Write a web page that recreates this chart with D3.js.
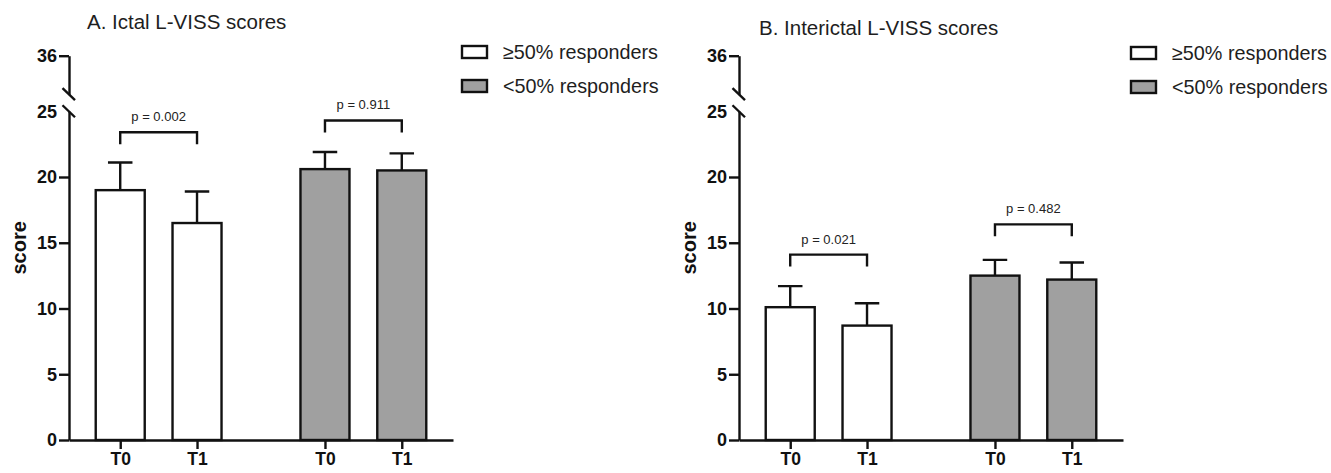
<!DOCTYPE html>
<html>
<head>
<meta charset="utf-8">
<script src="https://cdn.jsdelivr.net/npm/d3@7"></script>
<style>
  html, body { margin: 0; padding: 0; background: #fff; }
  svg { display: block; font-family: "Liberation Sans", Arial, Helvetica, sans-serif; }
</style>
</head>
<body>
<svg id="chart" width="1331" height="473"></svg>
<script>
// ---------- data ----------
const categories = ["T0", "T1", "T0", "T1"];
const groupOfBar = [0, 0, 1, 1];
const legendLabels = ["\u226550% responders", "<50% responders"];
const groupFills = ["#ffffff", "#a0a0a0"];

const ictalTitle = "A. Ictal L-VISS scores";
const ictalMeans = [19.0, 16.5, 20.6, 20.5];
const ictalErr = [2.1, 2.4, 1.3, 1.3];
const ictalP = ["p = 0.002", "p = 0.911"];
const ictalBracket = [23.4, 24.3];

const interTitle = "B. Interictal L-VISS scores";
const interMeans = [10.1, 8.7, 12.5, 12.2];
const interErr = [1.6, 1.7, 1.2, 1.3];
const interP = ["p = 0.021", "p = 0.482"];
const interBracket = [14.1, 16.4];

const yTicksLow = [0, 5, 10, 15, 20, 25];
const yTicksHigh = [36];
const yLabel = "score";

// ---------- layout ----------
const svg = d3.select("#chart");
const barSlots = [0.667, 1.667, 3.333, 4.333];

function panel(opts) {
  const g = svg.append("g").attr("transform", `translate(${opts.x0},0)`);
  const axisW = 384;
  const x = d3.scaleLinear().domain([0, 5]).range([0, axisW]);
  const y = d3.scaleLinear().domain([0, 25]).range([440, 111.25]);
  const yTop = d3.scaleLinear().domain([33.07, 36]).range([94.2, 55.7]);
  const barW = 49;
  const sw = 2.4;

  // title
  g.append("text").attr("x", opts.titleX).attr("y", opts.titleY)
    .attr("font-size", 20.5).attr("fill", "#1e1e1e").text(opts.title);

  // bars
  const data = opts.means.map((m, i) => ({ m, e: opts.err[i], g: groupOfBar[i], slot: barSlots[i], cat: categories[i] }));
  g.selectAll("rect.bar").data(data).join("rect")
    .attr("class", "bar")
    .attr("x", d => x(d.slot) - barW / 2)
    .attr("y", d => y(d.m))
    .attr("width", barW)
    .attr("height", d => y(0) - y(d.m))
    .attr("fill", d => groupFills[d.g])
    .attr("stroke", "#111").attr("stroke-width", sw);

  // error bars (upper only)
  g.selectAll("path.err").data(data).join("path")
    .attr("class", "err")
    .attr("d", d => {
      const cx = x(d.slot), top = y(d.m + d.e);
      return `M${cx},${y(d.m)}V${top}M${cx - barW / 4},${top}H${cx + barW / 4}`;
    })
    .attr("fill", "none").attr("stroke", "#111").attr("stroke-width", sw);

  // significance brackets
  [0, 1].forEach(k => {
    const xa = x(barSlots[2 * k]), xb = x(barSlots[2 * k + 1]);
    const yt = y(opts.bracket[k]);
    g.append("path")
      .attr("d", `M${xa},${yt + 12}V${yt}H${xb}V${yt + 12}`)
      .attr("fill", "none").attr("stroke", "#111").attr("stroke-width", sw);
    g.append("text").attr("x", (xa + xb) / 2).attr("y", yt - 11)
      .attr("text-anchor", "middle").attr("font-size", 13).attr("fill", "#222")
      .text(opts.p[k]);
  });

  // y axis lower segment
  const yAxisLow = g.append("g").call(
    d3.axisLeft(y).tickValues(yTicksLow).tickSize(10).tickSizeOuter(0).tickPadding(2).tickFormat(d3.format("d")));
  // y axis upper segment
  const yAxisHigh = g.append("g").call(
    d3.axisLeft(yTop).tickValues(yTicksHigh).tickSize(10).tickSizeOuter(0).tickPadding(2).tickFormat(d3.format("d")));
  [yAxisLow, yAxisHigh].forEach(a => {
    a.select(".domain").attr("stroke", "#111").attr("stroke-width", sw);
    a.selectAll(".tick line").attr("stroke", "#111").attr("stroke-width", sw);
    a.selectAll(".tick text").attr("font-size", 18).attr("font-weight", "bold")
      .attr("fill", "#111").attr("font-family", "'Liberation Sans', Arial, sans-serif");
  });
  yAxisLow.selectAll(".tick").filter(d => d === 25).select("line").remove();

  // break slashes
  [yTop(33.07), y(25)].forEach(cy => {
    g.append("line").attr("x1", -6.5).attr("y1", cy - 6).attr("x2", 6).attr("y2", cy + 6)
      .attr("stroke", "#111").attr("stroke-width", sw);
  });

  // x axis
  const xAxis = g.append("g").attr("transform", `translate(0,${y(0)})`).call(
    d3.axisBottom(x).tickValues(barSlots).tickSize(9).tickSizeOuter(0).tickPadding(4)
      .tickFormat((d, i) => categories[i]));
  xAxis.select(".domain").attr("stroke", "#111").attr("stroke-width", sw);
  xAxis.selectAll(".tick line").attr("stroke", "#111").attr("stroke-width", sw);
  xAxis.selectAll(".tick text").attr("font-size", 17.5).attr("font-weight", "bold")
    .attr("fill", "#111").attr("font-family", "'Liberation Sans', Arial, sans-serif");

  // y label
  g.append("text")
    .attr("transform", `translate(-43,${(y(0) + yTop(36)) / 2}) rotate(-90)`)
    .attr("text-anchor", "middle").attr("font-size", 20).attr("font-weight", "bold")
    .attr("fill", "#111").text(yLabel);

  // legend
  const lg = svg.append("g").attr("transform", `translate(${opts.legX},${opts.legY})`);
  legendLabels.forEach((lab, i) => {
    lg.append("rect").attr("x", 0).attr("y", i * 34 - 6).attr("width", 25).attr("height", 12)
      .attr("fill", groupFills[i]).attr("stroke", "#111").attr("stroke-width", sw);
    lg.append("text").attr("x", 41).attr("y", i * 34 + 7)
      .attr("font-size", 19.8).attr("fill", "#1e1e1e").text(lab);
  });
}

panel({ x0: 69, title: ictalTitle, titleX: 18, titleY: 29, means: ictalMeans, err: ictalErr,
        p: ictalP, bracket: ictalBracket, legX: 462, legY: 52 });
panel({ x0: 739, title: interTitle, titleX: 20, titleY: 35, means: interMeans, err: interErr,
        p: interP, bracket: interBracket, legX: 1131, legY: 53 });
</script>
</body>
</html>
